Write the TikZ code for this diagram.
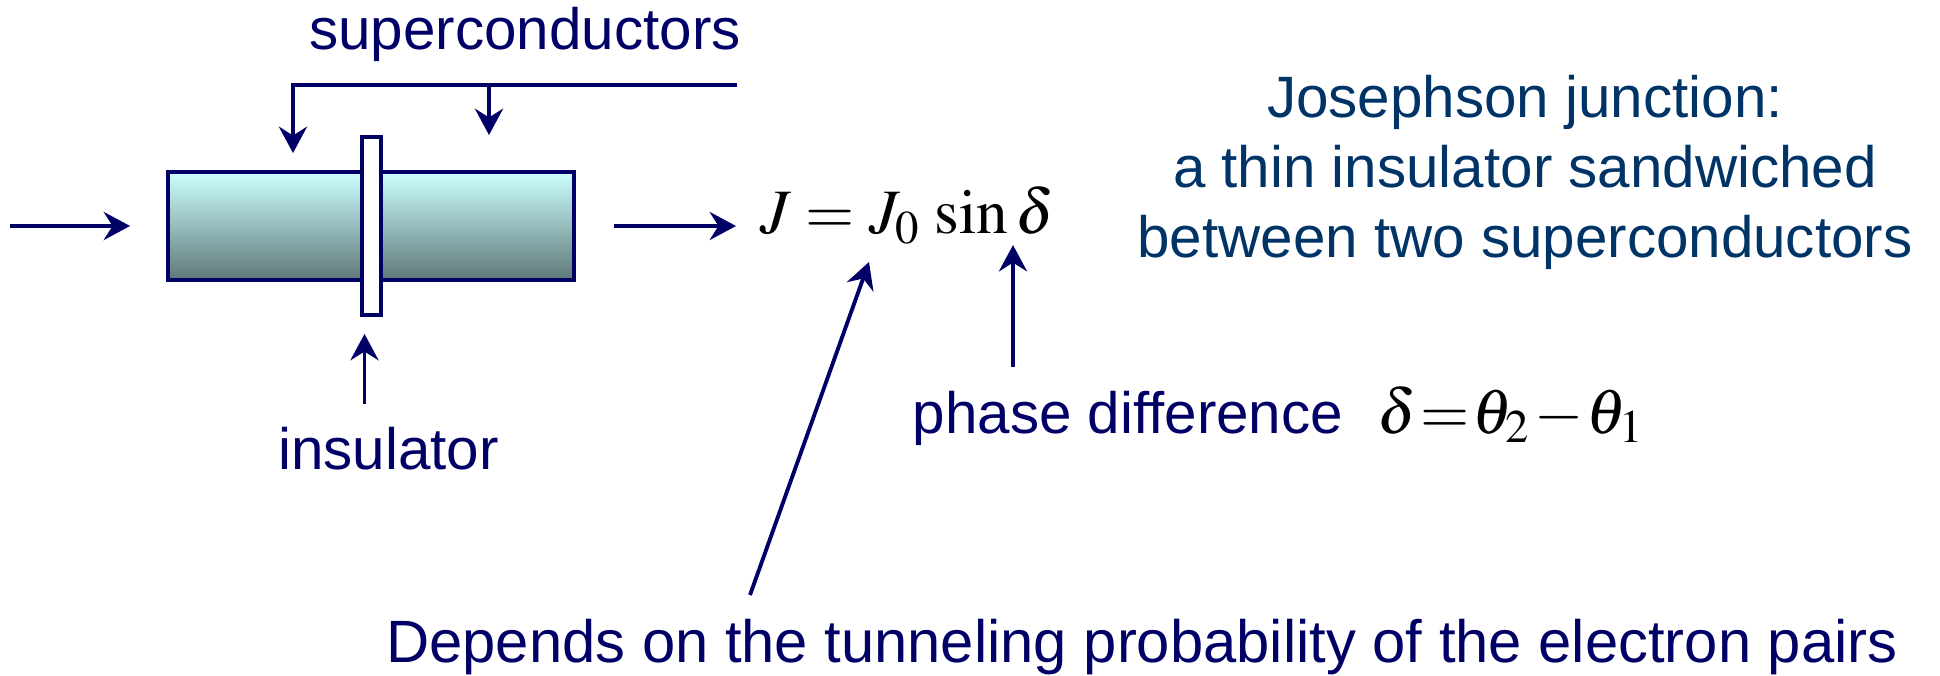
\documentclass[tikz,border=0pt]{standalone}
\usepackage{mathptmx}
\usepackage[no-math]{fontspec}
\setmainfont{Liberation Sans}
\usetikzlibrary{arrows.meta,positioning}
\definecolor{navy}{HTML}{000066}
\definecolor{headblue}{HTML}{003366}
\definecolor{sctop}{HTML}{CCFFFF}
\definecolor{scbot}{HTML}{5F7878}

\begin{document}
\begin{tikzpicture}[
  lbl/.style={text=navy,font=\fontsize{16.6}{19.9}\selectfont,inner sep=0pt},
  eqn/.style={font=\fontsize{18}{20}\selectfont,inner sep=0pt},
  arr/.style={-{Stealth[length=7.5pt,width=8pt,inset=2.5pt]},line width=1.1pt,navy},
  sc/.style={draw=navy,line width=1.1pt,top color=sctop,bottom color=scbot,minimum width=4.06cm,minimum height=1.08cm,inner sep=0pt},
  ins/.style={draw=navy,line width=1.1pt,fill=white,minimum width=0.19cm,minimum height=1.78cm,inner sep=0pt}]
\useasboundingbox (0,0) rectangle (19.40,6.75);
% junction
\node[sc] (jj) at (3.71,4.49) {};
\node[ins] (ins) at (3.715,4.49) {};
\node[eqn,anchor=base west] (eq) at (7.60,4.41) {$J = J_0\,\sin\delta$};
\coordinate (in) at (0.10,4.49);
\draw[arr] (in) -- ([xshift=-0.36cm]jj.west);
\draw[arr] ([xshift=0.38cm]jj.east) -- ([xshift=-0.24cm]jj.east -| eq.west);
% superconductors
\node[lbl,anchor=base] (scl) at (5.25,6.25) {superconductors};
\coordinate (br) at (7.37,5.90);
\coordinate (bl) at (2.93,5.90);
\coordinate (bm) at (4.89,5.90);
\draw[arr] (br) -- (bl) -- ([yshift=0.17cm]bl |- jj.north);
\draw[arr] (bm) -- ([yshift=0.35cm]bm |- jj.north);
% insulator
\node[lbl,anchor=base] (insl) at (3.885,2.05) {insulator};
\draw[arr] ([xshift=-0.07cm,yshift=-0.87cm]ins.south) -- ([xshift=-0.07cm,yshift=-0.17cm]ins.south);
% phase
\node[lbl,anchor=base west] (ph) at (9.12,2.42) {phase difference};
\node[eqn,right=0.33cm of ph.base east,anchor=base west] (dth) {$\thickmuskip=1mu\medmuskip=1mu\delta=\theta_2-\theta_1$};
\draw[arr] ([xshift=1.01cm,yshift=0.23cm]ph.north west) -- ([xshift=1.01cm,yshift=1.45cm]ph.north west);
% tunneling
\node[lbl,font=\fontsize{17}{20}\selectfont,anchor=base] (tun) at (11.42,0.13) {Depends on the tunneling probability of the electron pairs};
\coordinate (tb) at (7.50,0.80);
\draw[arr] (tb) -- ([xshift=1.09cm,yshift=-0.28cm]eq.base west);
% title
\node[lbl,text=headblue,align=center,anchor=north] (head) at (15.25,6.00) {Josephson junction:\\a thin insulator sandwiched\\between two superconductors};
\end{tikzpicture}
\end{document}
